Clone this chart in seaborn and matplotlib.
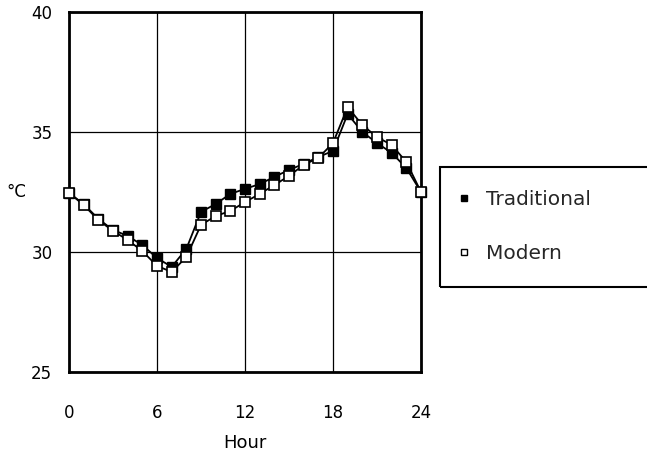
import matplotlib
matplotlib.use("Agg")
import matplotlib.pyplot as plt
from matplotlib.lines import Line2D
from matplotlib.patches import Rectangle
import seaborn as sns
import pandas as pd

hours = list(range(25))
traditional = [32.46, 32.0, 31.38, 30.92, 30.67, 30.29, 29.75, 29.38, 30.13,
               31.67, 32.0, 32.42, 32.63, 32.83, 33.13, 33.42, 33.67, 33.96,
               34.21, 35.75, 35.0, 34.54, 34.13, 33.5, 32.5]
modern = [32.46, 31.96, 31.33, 30.88, 30.5, 30.04, 29.42, 29.17, 29.79,
          31.13, 31.5, 31.71, 32.08, 32.42, 32.79, 33.17, 33.63, 33.92,
          34.54, 36.04, 35.29, 34.79, 34.46, 33.75, 32.5]
x_ticks = [0, 6, 12, 18, 24]
y_ticks = [25, 30, 35, 40]

sns.set_theme(style="white")
plt.rcParams["font.family"] = ["DejaVu Sans"]

df = pd.DataFrame({"Hour": hours, "Traditional": traditional, "Modern": modern})

fig = plt.figure(figsize=(6.47, 4.54), dpi=100)
ax = fig.add_axes([69 / 647, 1 - 372 / 454, (421 - 69) / 647, (372 - 12) / 454])

sns.lineplot(data=df, x="Hour", y="Traditional", ax=ax, color="black",
             linewidth=1.3, marker="s", markersize=6.8, markerfacecolor="black",
             markeredgecolor="black", markeredgewidth=1.0, zorder=3,
             clip_on=False)
sns.lineplot(data=df, x="Hour", y="Modern", ax=ax, color="black",
             linewidth=1.3, marker="s", markersize=6.8, markerfacecolor="white",
             markeredgecolor="black", markeredgewidth=1.2, zorder=4,
             clip_on=False)

ax.set_xlim(0, 24)
ax.set_ylim(25, 40)
ax.set_xticks(x_ticks)
ax.set_yticks(y_ticks)
ax.tick_params(axis="both", labelsize=12, colors="black", direction="in",
               length=4, width=1.2)
ax.tick_params(axis="x", pad=23)
ax.tick_params(axis="y", pad=12)
for s in ax.spines.values():
    s.set_color("black")
    s.set_linewidth(2.0)
ax.grid(True, color="black", linewidth=0.9)
ax.set_axisbelow(True)

ax.set_xlabel("Hour", fontsize=13, color="black", labelpad=9)
ax.set_ylabel("°C", fontsize=12, color="black", rotation=0, labelpad=11,
              va="center")

# legend box running off the right edge
fig.patches.append(Rectangle((440 / 647, 1 - 287 / 454), 0.5, 120 / 454,
                             transform=fig.transFigure, fill=False,
                             edgecolor="black", linewidth=1.5, clip_on=False))
handles = [
    Line2D([], [], linestyle="none", marker="s", markersize=5,
           markerfacecolor="black", markeredgecolor="black"),
    Line2D([], [], linestyle="none", marker="s", markersize=5,
           markerfacecolor="white", markeredgecolor="black"),
]
fig.legend(handles, ["Traditional", "Modern"], loc="upper left",
           bbox_to_anchor=(444 / 647, 1 - 180 / 454), frameon=False,
           fontsize=14.5, handletextpad=0.6, labelspacing=1.75,
           handlelength=1.0, borderpad=0.0)

fig.savefig("out.png", dpi=100)
